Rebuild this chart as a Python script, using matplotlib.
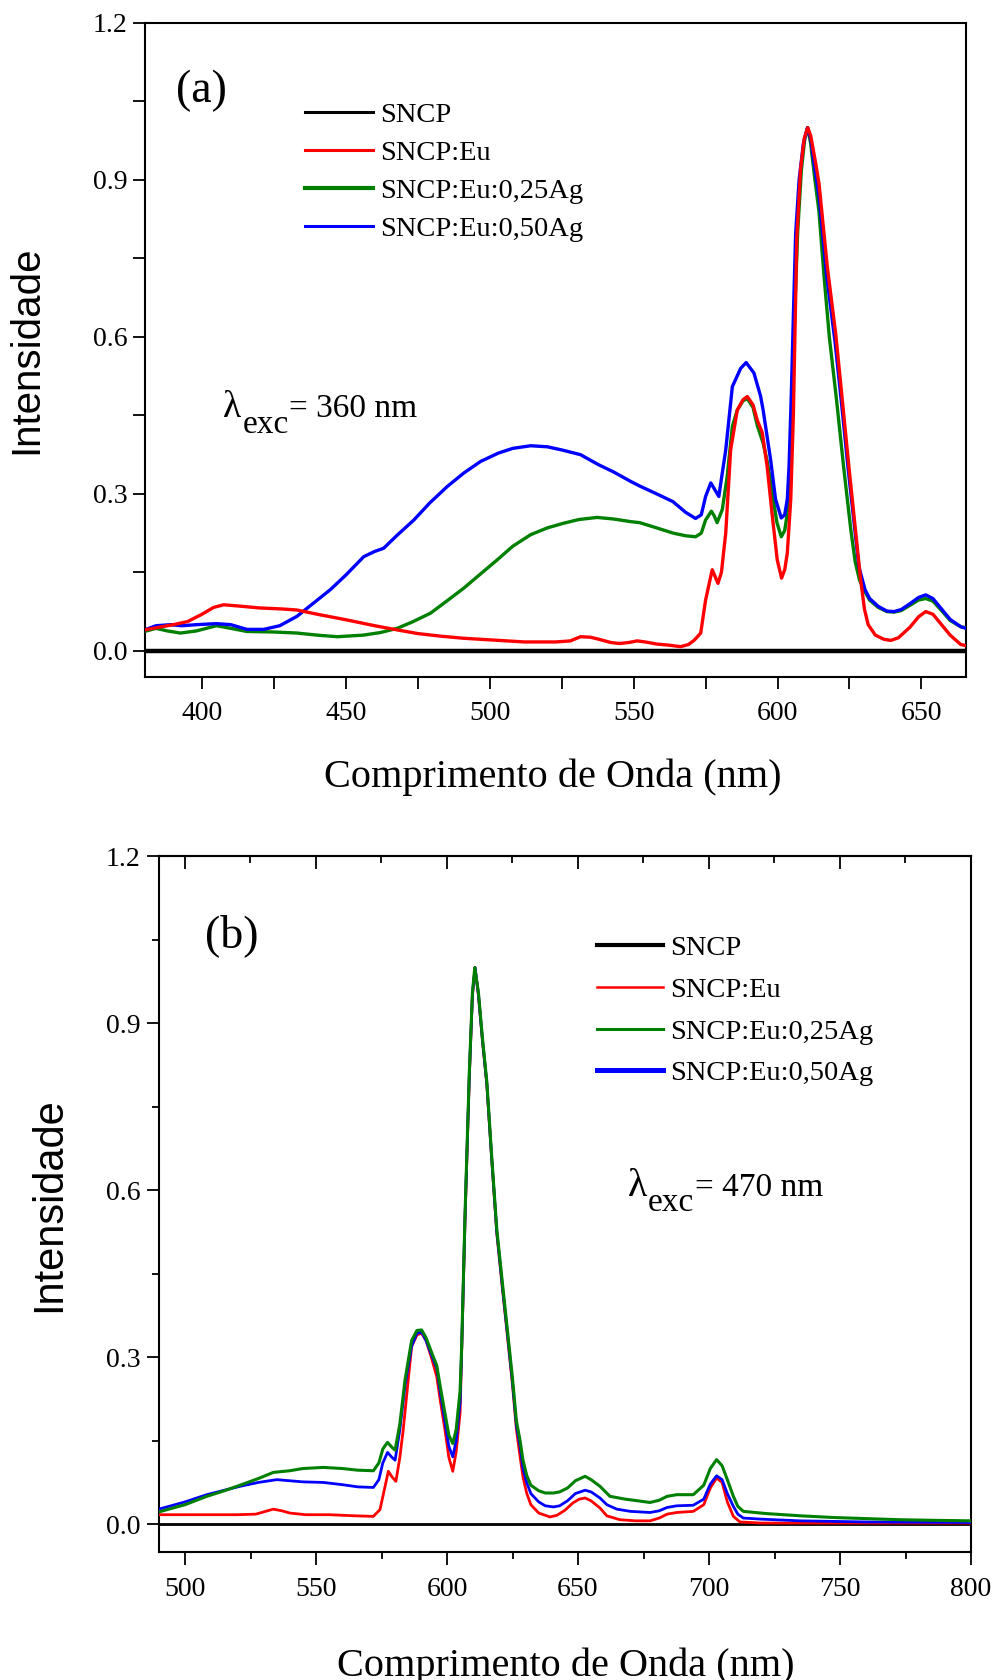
import matplotlib
matplotlib.use('Agg')
import matplotlib.pyplot as plt
from matplotlib.ticker import MultipleLocator, FormatStrFormatter

SERIF = ['Liberation Serif', 'DejaVu Serif']
SANS = ['Liberation Sans', 'DejaVu Sans']
plt.rcParams['font.family'] = SERIF

# ---------------- data: panel (a), excitation 360 nm ----------------
a_labels = ['SNCP', 'SNCP:Eu', 'SNCP:Eu:0,25Ag', 'SNCP:Eu:0,50Ag']

a_sncp_x = [380, 665.5]
a_sncp_y = [0.0, 0.0]

a_eu_x = [380, 385, 390, 395, 400, 404, 407.5, 412, 420, 428, 433, 440, 450.4, 460, 467.8,
          475, 483, 491, 500, 512, 523, 528, 531.5, 535, 538, 542, 545, 548.4, 551.2, 554,
          558, 562, 566.3, 569, 571, 573.3, 575, 577.3, 579.3, 580.5, 582, 583.7, 586, 588,
          589.5, 591.5, 593, 594.7, 596.4, 598.2, 599.9, 601.4, 602.5, 603.4, 604.6, 605.5,
          606.7, 608, 609.3, 610.5, 611.5, 613, 614.4, 617.3, 620.2, 622.5, 624.8, 627.2,
          628.8, 630.2, 631.5, 634, 637, 639.4, 642, 646, 649, 651.5, 654, 657, 660, 663.7, 665.5]
a_eu_y = [0.040, 0.045, 0.050, 0.056, 0.070, 0.083, 0.088, 0.086, 0.082, 0.080, 0.078, 0.070,
          0.059, 0.048, 0.040, 0.033, 0.028, 0.024, 0.021, 0.017, 0.017, 0.019, 0.027, 0.026,
          0.022, 0.016, 0.014, 0.016, 0.019, 0.017, 0.013, 0.011, 0.008, 0.012, 0.020, 0.034,
          0.097, 0.155, 0.129, 0.150, 0.225, 0.384, 0.460, 0.480, 0.486, 0.470, 0.440, 0.417,
          0.352, 0.257, 0.174, 0.139, 0.155, 0.187, 0.290, 0.450, 0.790, 0.920, 0.980, 1.000,
          0.985, 0.940, 0.894, 0.734, 0.607, 0.480, 0.352, 0.225, 0.140, 0.080, 0.050, 0.030,
          0.022, 0.020, 0.025, 0.045, 0.065, 0.075, 0.070, 0.050, 0.030, 0.012, 0.010]

a_ag25_x = [380, 384, 388, 392.5, 398, 405, 410, 415.6, 425, 433, 440, 447, 456, 462, 467.8,
            473, 479.4, 485, 491, 497, 502.6, 508, 514.2, 520, 525.7, 531, 537.3, 543, 548.9,
            552.1, 558, 563.7, 568, 571.5, 573.5, 575, 577, 578, 579, 580.8, 582.5, 584.3, 586,
            588, 589.5, 591.5, 593, 595, 596.5, 598.2, 599.8, 601.3, 602.5, 603.4, 604.3, 605.2,
            606, 607, 608.3, 609.5, 610.5, 611.5, 613, 614.4, 616.1, 618, 620.5, 623, 625.5, 627,
            628.5, 630.4, 632, 635, 638, 640.5, 643, 646, 649, 651.5, 654, 657, 660, 663.7, 665.5]
a_ag25_y = [0.037, 0.043, 0.038, 0.034, 0.038, 0.048, 0.043, 0.037, 0.036, 0.034, 0.030, 0.027,
            0.030, 0.035, 0.043, 0.055, 0.072, 0.095, 0.120, 0.148, 0.174, 0.200, 0.222, 0.235,
            0.244, 0.251, 0.255, 0.252, 0.247, 0.245, 0.235, 0.225, 0.220, 0.218, 0.225, 0.250,
            0.267, 0.258, 0.245, 0.270, 0.333, 0.429, 0.460, 0.478, 0.482, 0.465, 0.430, 0.397,
            0.360, 0.300, 0.245, 0.218, 0.230, 0.263, 0.350, 0.500, 0.650, 0.800, 0.920, 0.980,
            1.000, 0.970, 0.900, 0.840, 0.720, 0.600, 0.480, 0.350, 0.230, 0.170, 0.135, 0.113,
            0.097, 0.083, 0.075, 0.074, 0.077, 0.087, 0.097, 0.100, 0.095, 0.077, 0.058, 0.046, 0.044]

a_ag50_x = [380, 384, 389, 393, 398, 405, 410, 415.6, 421.4, 427, 433, 438, 444.6, 450, 456.2,
            460, 463.1, 468, 473.6, 479, 485.2, 491, 496.8, 503, 508, 514.2, 520, 525, 531.5,
            537.7, 543, 548.9, 552.1, 558, 563.7, 568, 571.5, 573.5, 575, 576.8, 578, 579.6,
            580.8, 582, 584.3, 587.2, 589.1, 591.8, 594.1, 595, 597.6, 599.3, 601.3, 602.5,
            603.4, 604, 604.8, 605.5, 606.3, 607.5, 609, 610.4, 611.5, 613, 614.4, 617, 620,
            622.3, 624.5, 627, 628.3, 630.4, 632, 635, 638, 640.5, 643, 646, 649, 651.5, 654,
            657, 660, 663.7, 665.5]
a_ag50_y = [0.040, 0.048, 0.050, 0.048, 0.050, 0.052, 0.050, 0.041, 0.041, 0.048, 0.066, 0.088,
            0.117, 0.145, 0.180, 0.190, 0.196, 0.222, 0.250, 0.282, 0.314, 0.340, 0.362, 0.378,
            0.387, 0.392, 0.390, 0.384, 0.375, 0.356, 0.342, 0.324, 0.315, 0.300, 0.285, 0.265,
            0.253, 0.260, 0.295, 0.321, 0.310, 0.295, 0.340, 0.384, 0.505, 0.540, 0.551, 0.531,
            0.487, 0.460, 0.365, 0.290, 0.254, 0.260, 0.290, 0.352, 0.492, 0.639, 0.798, 0.900,
            0.970, 1.000, 0.980, 0.920, 0.870, 0.720, 0.590, 0.470, 0.350, 0.225, 0.160, 0.117,
            0.100, 0.085, 0.076, 0.075, 0.079, 0.090, 0.102, 0.107, 0.100, 0.080, 0.060, 0.046, 0.043]

# ---------------- data: panel (b), excitation 470 nm ----------------
b_labels = ['SNCP', 'SNCP:Eu', 'SNCP:Eu:0,25Ag', 'SNCP:Eu:0,50Ag']

b_sncp_x = [490, 800]
b_sncp_y = [0.0, 0.0]

b_eu_x = [490, 500, 510, 520, 527, 530, 533.7, 537, 540, 546, 555, 565, 571.9, 574.4, 576,
          577.6, 579, 580.5, 582, 583.3, 585, 586.5, 588.5, 590.3, 592, 594, 596.1, 597.5,
          599.2, 600.7, 602.2, 603.5, 605, 605.6, 606.9, 608.5, 609.7, 610.7, 612, 613.5,
          615.2, 617, 619, 621, 622.8, 625, 626.5, 627.9, 629, 630.4, 632, 635, 639.3, 642,
          645, 648, 650.5, 652.7, 655, 658.4, 661, 666, 672, 677.5, 681, 684, 687.7, 694, 698,
          700.5, 702.9, 705, 707, 709.3, 711.8, 720, 800]
b_eu_y = [0.017, 0.017, 0.017, 0.017, 0.018, 0.022, 0.027, 0.024, 0.020, 0.017, 0.017, 0.015,
          0.014, 0.026, 0.060, 0.095, 0.085, 0.077, 0.120, 0.170, 0.250, 0.319, 0.340, 0.343,
          0.330, 0.300, 0.265, 0.220, 0.170, 0.120, 0.095, 0.130, 0.200, 0.310, 0.550, 0.800,
          0.950, 1.000, 0.950, 0.870, 0.790, 0.660, 0.523, 0.430, 0.350, 0.250, 0.170, 0.121,
          0.085, 0.056, 0.035, 0.020, 0.013, 0.016, 0.025, 0.038, 0.045, 0.047, 0.042, 0.029,
          0.015, 0.008, 0.006, 0.006, 0.011, 0.018, 0.021, 0.023, 0.035, 0.065, 0.083, 0.075,
          0.040, 0.014, 0.004, 0.002, 0.002]

b_ag25_x = [490, 500, 508.3, 515, 521, 528, 533.7, 540, 545, 552.8, 560, 566, 571.9, 574,
            575.5, 577.3, 579, 580.2, 582, 584, 586.5, 588.5, 590.3, 592, 594, 596.1, 597.5,
            599.2, 600.7, 602.2, 603.5, 605, 605.6, 606.9, 608.5, 609.7, 610.6, 612, 613.5,
            615.2, 617, 619, 621, 622.8, 625, 626.5, 627.9, 629, 630.4, 632, 635, 637.5, 640.6,
            643, 646, 649, 652.7, 655, 658.4, 662.2, 668, 677.5, 681, 684, 687.7, 694, 698,
            700.5, 702.9, 705, 707, 709.3, 711, 713.1, 722, 735, 747.4, 760, 772.9, 785, 800]
b_ag25_y = [0.022, 0.035, 0.050, 0.060, 0.070, 0.082, 0.093, 0.096, 0.100, 0.102, 0.100, 0.097,
            0.096, 0.110, 0.135, 0.147, 0.138, 0.133, 0.180, 0.260, 0.330, 0.348, 0.349, 0.335,
            0.310, 0.285, 0.245, 0.200, 0.160, 0.145, 0.170, 0.240, 0.320, 0.560, 0.810, 0.955,
            1.000, 0.955, 0.875, 0.795, 0.665, 0.530, 0.440, 0.360, 0.262, 0.185, 0.150, 0.115,
            0.088, 0.070, 0.060, 0.056, 0.056, 0.058, 0.065, 0.078, 0.086, 0.080, 0.068, 0.050,
            0.045, 0.039, 0.043, 0.050, 0.053, 0.053, 0.070, 0.100, 0.116, 0.105, 0.080, 0.050,
            0.032, 0.023, 0.019, 0.015, 0.012, 0.010, 0.008, 0.007, 0.006]

b_ag50_x = [490, 500, 508.3, 515, 521, 528, 535, 540, 545, 552.8, 560, 566, 571.9, 574, 575.5,
            577.3, 579, 580.2, 582, 584, 586.5, 588.5, 590.3, 592, 594, 596.1, 597.5, 599.2,
            600.7, 602.2, 603.5, 605, 605.6, 606.9, 608.5, 609.7, 610.7, 612, 613.5, 615.2, 617,
            619, 621, 622.8, 625, 626.5, 627.9, 629, 630.4, 632, 635, 637.5, 640.6, 643, 646,
            649, 652.7, 655, 658.4, 661, 664.8, 670, 677.5, 681, 684, 687.7, 694, 698, 700.5,
            702.9, 705, 707, 709.3, 711, 713.1, 720, 734.7, 760, 800]
b_ag50_y = [0.027, 0.040, 0.053, 0.061, 0.068, 0.075, 0.080, 0.078, 0.076, 0.075, 0.071, 0.067,
            0.066, 0.080, 0.110, 0.129, 0.120, 0.115, 0.170, 0.250, 0.320, 0.343, 0.345, 0.330,
            0.305, 0.280, 0.235, 0.185, 0.140, 0.121, 0.150, 0.220, 0.315, 0.555, 0.805, 0.952,
            1.000, 0.952, 0.872, 0.792, 0.662, 0.526, 0.434, 0.354, 0.255, 0.177, 0.140, 0.100,
            0.075, 0.055, 0.040, 0.033, 0.031, 0.033, 0.042, 0.055, 0.061, 0.058, 0.047, 0.035,
            0.027, 0.023, 0.021, 0.024, 0.030, 0.033, 0.034, 0.045, 0.072, 0.087, 0.080, 0.055,
            0.032, 0.018, 0.011, 0.009, 0.006, 0.004, 0.003]

x_label = 'Comprimento de Onda (nm)'
y_label = 'Intensidade'

# ---------------- figure ----------------
fig = plt.figure(figsize=(9.98, 16.8), dpi=100)
ax_a = fig.add_axes([144.5 / 998, 1 - 677 / 1680, 821.5 / 998, 654 / 1680])
ax_b = fig.add_axes([158.8 / 998, 1 - 1552 / 1680, 812.2 / 998, 695.7 / 1680])

RED, GREEN, BLUE = '#ff0000', '#008000', '#0000ff'

# panel (a)
la0, = ax_a.plot(a_sncp_x, a_sncp_y, color='black', lw=3.2, label=a_labels[0], zorder=2)
la2, = ax_a.plot(a_ag25_x, a_ag25_y, color=GREEN, lw=2.4, label=a_labels[2], zorder=3)
la3, = ax_a.plot(a_ag50_x, a_ag50_y, color=BLUE, lw=2.4, label=a_labels[3], zorder=4)
la1, = ax_a.plot(a_eu_x, a_eu_y, color=RED, lw=2.4, label=a_labels[1], zorder=5)

# panel (b)
lb0, = ax_b.plot(b_sncp_x, b_sncp_y, color='black', lw=2.0, label=b_labels[0], zorder=2)
lb1, = ax_b.plot(b_eu_x, b_eu_y, color=RED, lw=2.0, label=b_labels[1], zorder=3)
lb3, = ax_b.plot(b_ag50_x, b_ag50_y, color=BLUE, lw=2.0, label=b_labels[3], zorder=4)
lb2, = ax_b.plot(b_ag25_x, b_ag25_y, color=GREEN, lw=2.2, label=b_labels[2], zorder=5)

for ax, xlim in [(ax_a, (380, 665.5)), (ax_b, (490, 800))]:
    ax.set_xlim(*xlim)
    ax.set_ylim(-0.05, 1.2)
    ax.xaxis.set_major_locator(MultipleLocator(50))
    ax.xaxis.set_minor_locator(MultipleLocator(25))
    ax.yaxis.set_major_locator(MultipleLocator(0.3))
    ax.yaxis.set_minor_locator(MultipleLocator(0.15))
    ax.yaxis.set_major_formatter(FormatStrFormatter('%.1f'))
    for s in ax.spines.values():
        s.set_linewidth(1.5)
    ax.tick_params(which='both', direction='out', top=False, right=False, width=1.3,
                   labelsize=20, labelfontfamily=SERIF[0])
    ax.tick_params(axis='x', which='both', pad=9)
    ax.tick_params(axis='y', which='both', pad=4)

ax_a.tick_params(which='major', length=8.5)
ax_a.tick_params(which='minor', length=8.5)
ax_b.tick_params(which='major', length=9)
ax_b.tick_params(which='minor', length=5)

sec = ax_b.secondary_xaxis('top')
sec.xaxis.set_major_locator(MultipleLocator(50))
sec.xaxis.set_minor_locator(MultipleLocator(25))
sec.tick_params(which='both', direction='in', labeltop=False, width=1.3)
sec.tick_params(which='major', length=9)
sec.tick_params(which='minor', length=5)
sec.spines['top'].set_linewidth(1.5)

# axis labels
ax_a.set_xlabel(x_label, fontsize=29, family=SERIF)
ax_a.xaxis.set_label_coords(0.497, -0.1245)
ax_a.set_ylabel(y_label, fontsize=29, family=SANS)
ax_a.yaxis.set_label_coords(-0.121, 0.5)

ax_b.set_xlabel(x_label, fontsize=29, family=SERIF)
ax_b.xaxis.set_label_coords(0.501, -0.137)
ax_b.set_ylabel(y_label, fontsize=30, family=SANS)
ax_b.yaxis.set_label_coords(-0.111, 0.5)

# legends
leg_a = ax_a.legend(handles=[la0, la1, la2, la3], loc='upper left',
                    bbox_to_anchor=(0.1954, 0.8794), frameon=False,
                    prop={'family': SERIF, 'size': 20.5},
                    handlelength=2.4, handletextpad=0.25, labelspacing=0.43,
                    borderpad=0, borderaxespad=0)
for ln, w in zip(leg_a.get_lines(), [2.2, 2.2, 3.0, 2.2]):
    ln.set_linewidth(w)

leg_b = ax_b.legend(handles=[lb0, lb1, lb2, lb3], loc='upper left',
                    bbox_to_anchor=(0.5395, 0.8863), frameon=False,
                    prop={'family': SERIF, 'size': 20.5},
                    handlelength=2.32, handletextpad=0.25, labelspacing=0.55,
                    borderpad=0, borderaxespad=0)
for ln, w in zip(leg_b.get_lines(), [3.0, 1.8, 2.2, 3.6]):
    ln.set_linewidth(w)

# panel letters
ax_a.text(0.0688, 0.896, '(a)', transform=ax_a.transAxes, fontsize=33,
          ha='center', va='center', family=SERIF)
ax_b.text(0.0901, 0.8854, '(b)', transform=ax_b.transAxes, fontsize=33,
          ha='center', va='center', family=SERIF)

# excitation annotations
ax_a.text(0.0952, 0.3976, 'λ', transform=ax_a.transAxes, fontsize=27, va='baseline', family=SERIF)
ax_a.text(0.1199, 0.3731, 'exc', transform=ax_a.transAxes, fontsize=24, va='baseline', family=SERIF)
ax_a.text(0.1759, 0.3976, '= 360 nm', transform=ax_a.transAxes, fontsize=24, va='baseline', family=SERIF)

ax_b.text(0.5777, 0.5117, 'λ', transform=ax_b.transAxes, fontsize=29, va='baseline', family=SERIF)
ax_b.text(0.6024, 0.4906, 'exc', transform=ax_b.transAxes, fontsize=24, va='baseline', family=SERIF)
ax_b.text(0.6602, 0.5117, '= 470 nm', transform=ax_b.transAxes, fontsize=24, va='baseline', family=SERIF)

fig.savefig('out.png', dpi=100)
